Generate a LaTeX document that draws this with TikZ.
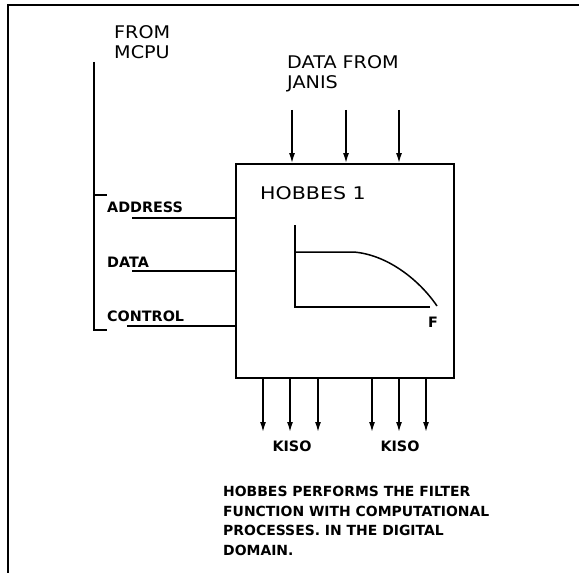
\documentclass[tikz,border=0pt]{standalone}
\usepackage{fontspec}
\setmainfont{DejaVu Sans}
\newfontfamily\biglab[FakeStretch=1.1]{DejaVu Sans}
\newfontfamily\titlab[FakeStretch=1.18]{DejaVu Sans}
\newfontfamily\smlab[FakeStretch=1.0]{DejaVu Sans Bold}
\usetikzlibrary{arrows.meta}
\begin{document}
\begin{tikzpicture}[x=1bp,y=-1bp,
  big/.style={anchor=north west,inner sep=0pt,align=left,font=\biglab\fontsize{17.5}{20.5}\selectfont},
  sml/.style={anchor=north west,inner sep=0pt,align=left,font=\smlab\fontsize{14.4}{19.7}\selectfont},
  wire/.style={line width=1.5bp},
  arr/.style={line width=1.5bp,-{Latex[length=10bp,width=6bp]}},
  frame/.style={line width=2bp}]
\useasboundingbox (0,0) rectangle (579,573);
% frame
\coordinate (fL) at (8,573);
\coordinate (fC) at (8,5);
\coordinate (fR) at (579,5);
\draw[frame] (fL) -- (fC) -- (fR);
% labels
\node[big] (mcpu) at (114,25) {FROM\\MCPU};
\node[big] (janis) at (287,55) {DATA FROM\\JANIS};
% box
\node[draw,line width=1.8bp,minimum width=218bp,minimum height=214bp,inner sep=0pt] (hob) at (345,271) {};
\node[big,font=\titlab\fontsize{17.5}{20.5}\selectfont] (title) at (260,186) {HOBBES 1};
% bracket
\coordinate (b0) at (94,62);
\coordinate (b1) at (94,330);
\coordinate (b2) at (107,330);
\coordinate (bt0) at (94,195);
\coordinate (bt1) at (107,195);
\draw[wire] (b0) -- (b1) -- (b2);
\draw[wire] (bt0) -- (bt1);
% bus labels and lines
\node[sml] (addr) at (107,202) {ADDRESS};
\node[sml] (data) at (107,257) {DATA};
\node[sml] (ctrl) at (107,311) {CONTROL};
\coordinate (a0) at (132,218);
\coordinate (d0) at (132,271);
\coordinate (c0) at (127,326);
\draw[wire] (a0) -- (a0 -| hob.west);
\draw[wire] (d0) -- (d0 -| hob.west);
\draw[wire] (c0) -- (c0 -| hob.west);
% top arrows
\foreach \i/\x in {1/292,2/346,3/399}{
  \coordinate (t\i) at (\x,110);
  \draw[arr] (t\i) -- (t\i |- hob.north);
}
% bottom arrows
\foreach \i/\x in {1/263,2/290,3/318,4/372,5/399,6/426}{
  \coordinate (o\i) at (\x,432);
  \draw[arr] (o\i |- hob.south) -- (o\i);
}
\node[sml,anchor=north] (k1) at (292,441) {KISO};
\node[sml,anchor=north] (k2) at (400,441) {KISO};
% graph
\coordinate (g0) at (295,225);
\coordinate (g1) at (295,307);
\coordinate (g2) at (430,307);
\coordinate (c1) at (295,252);
\coordinate (c2) at (353,252);
\coordinate (c3) at (437,306);
\draw[wire] (g0) -- (g1) -- (g2);
\draw[wire] (c1) -- (c2) .. controls (385,254) and (418,278) .. (c3);
\node[sml] (f) at (428,317) {F};
% note
\node[sml,font=\smlab\fontsize{14}{19.7}\selectfont] (note) at (223,486) {HOBBES PERFORMS THE FILTER\\FUNCTION WITH COMPUTATIONAL\\PROCESSES. IN THE DIGITAL\\DOMAIN.};
\end{tikzpicture}
\end{document}
